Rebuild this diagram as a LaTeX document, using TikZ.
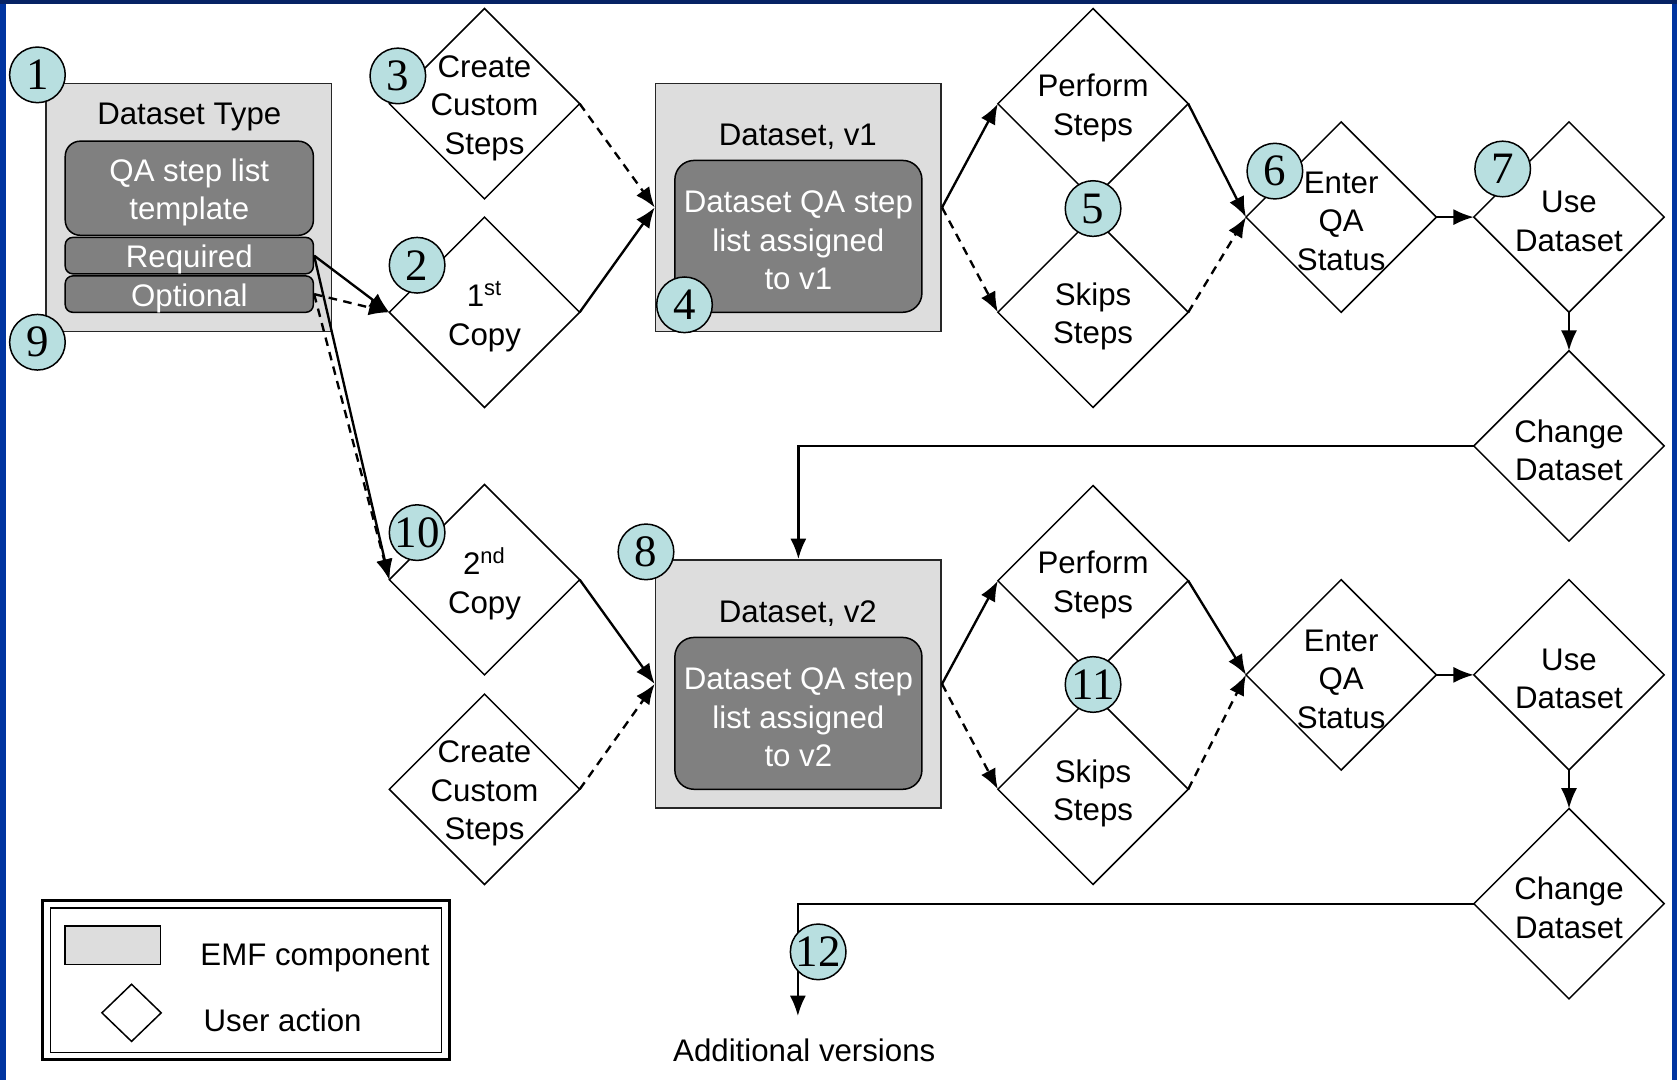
\documentclass[tikz,border=0pt]{standalone}
\usepackage{fontspec}
\setmainfont{Liberation Sans}
\newfontfamily\numfont{Liberation Serif}
\usetikzlibrary{arrows.meta,shapes.geometric}
\definecolor{emfgray}{RGB}{221,221,221}
\definecolor{darkfill}{RGB}{128,128,128}
\definecolor{numcyan}{RGB}{184,223,224}
\definecolor{sideblue}{RGB}{0,52,160}
\definecolor{topblue}{RGB}{6,34,100}
\begin{document}
\begin{tikzpicture}[x=0.5pt,y=-0.5pt,
  every node/.style={font=\fontsize{14.6}{18}\selectfont},
  emf/.style={draw=black!85, fill=emfgray, line width=0.8pt, minimum width=133.5pt, minimum height=116pt, inner sep=0pt},
  darkbox/.style={draw=black, fill=darkfill, line width=0.7pt, rounded corners=#1, inner sep=0pt, minimum width=116pt},
  txt/.style={align=center, inner sep=0pt, yshift=-2pt},
  wtxt/.style={txt, text=white},
  act/.style={draw, shape=diamond, line width=0.7pt, minimum width=89pt, minimum height=89pt, inner sep=0pt, outer sep=0pt},
  num/.style={circle, draw, fill=numcyan, line width=0.7pt, minimum size=26pt, inner sep=0pt, font=\numfont\fontsize{21}{21}\selectfont},
  con/.style={line width=1.1pt, -{Latex[length=9.5pt,width=7.5pt]}},
  dcon/.style={con, dash pattern=on 4pt off 3pt},
]
\useasboundingbox (0,0) rectangle (1568,1010);
% background and frame
\fill[white] (0,0) rectangle (1568,1010);
\fill[sideblue] (0,0) rectangle (6,1010);
\fill[sideblue] (1563,0) rectangle (1568,1010);
\fill[topblue] (0,0) rectangle (1568,4);

% Dataset Type
\node[emf] (dtype) at (176.5,194) {};
\node[txt] (dtypet) at (177,105) {Dataset Type};
\node[darkbox=7pt, minimum height=44pt, label={[wtxt]center:QA step list\\template}] (tmpl) at (177,176) {};
\node[darkbox=3.5pt, minimum height=17pt, label={[wtxt]center:Required}] (req) at (177,239) {};
\node[darkbox=3.5pt, minimum height=17pt, label={[wtxt]center:Optional}] (opt) at (177,275) {};

% Dataset v1
\node[emf] (ds1) at (746.5,194) {};
\node[txt] (ds1t) at (746,124) {Dataset, v1};
\node[darkbox=9pt, minimum height=71pt, minimum width=115.5pt, label={[wtxt]center:Dataset QA step\\list assigned\\to v1}] (ds1i) at (746.5,221) {};

% Dataset v2
\node[emf] (ds2) at (746.5,639.5) {};
\node[txt] (ds2t) at (746,570) {Dataset, v2};
\node[darkbox=9pt, minimum height=71pt, minimum width=115.5pt, label={[wtxt]center:Dataset QA step\\list assigned\\to v2}] (ds2i) at (746.5,667) {};

% user actions, row 1
\node[act, label={[txt]center:Create\\Custom\\Steps}] (cc1) at (453,97) {};
\node[act, label={[txt]center:1\textsuperscript{st}\\Copy}] (copy1) at (453,292) {};
\node[act, label={[txt]center:Perform\\Steps}] (perf1) at (1022,97) {};
\node[act, label={[txt]center:Skips\\Steps}] (skip1) at (1022,292) {};
\node[act, label={[txt]center:Enter\\QA\\Status}] (qa1) at (1254,203) {};
\node[act, label={[txt]center:Use\\Dataset}] (use1) at (1467,203) {};
\node[act, label={[txt]center:Change\\Dataset}] (chg1) at (1467,417) {};

% user actions, row 2
\node[act, label={[txt]center:2\textsuperscript{nd}\\Copy}] (copy2) at (453,542) {};
\node[act, label={[txt]center:Create\\Custom\\Steps}] (cc2) at (453,738) {};
\node[act, label={[txt]center:Perform\\Steps}] (perf2) at (1022,543) {};
\node[act, label={[txt]center:Skips\\Steps}] (skip2) at (1022,738) {};
\node[act, label={[txt]center:Enter\\QA\\Status}] (qa2) at (1254,631) {};
\node[act, label={[txt]center:Use\\Dataset}] (use2) at (1467,631) {};
\node[act, label={[txt]center:Change\\Dataset}] (chg2) at (1467,845) {};

% connectors
\draw[con] (req.east) -- (copy1.west);
\draw[dcon] (opt.east) -- (copy1.west);
\draw[dcon] (opt.east) -- (copy2.west);
\draw[con] (req.east) -- (copy2.west);
\draw[con] (copy1.east) -- (ds1.west);
\draw[dcon] (cc1.east) -- (ds1.west);
\draw[con] (ds1.east) -- (perf1.west);
\draw[dcon] (ds1.east) -- (skip1.west);
\draw[con] (perf1.east) -- (qa1.west);
\draw[dcon] (skip1.east) -- (qa1.west);
\draw[con] (qa1.east) -- (use1.west);
\draw[con] (use1.south) -- (chg1.north);
\draw[con] (chg1.west) -| (ds2.north);
\draw[con] (copy2.east) -- (ds2.west);
\draw[dcon] (cc2.east) -- (ds2.west);
\draw[con] (ds2.east) -- (perf2.west);
\draw[dcon] (ds2.east) -- (skip2.west);
\draw[con] (perf2.east) -- (qa2.west);
\draw[dcon] (skip2.east) -- (qa2.west);
\draw[con] (qa2.east) -- (use2.west);
\draw[con] (use2.south) -- (chg2.north);
\coordinate (addl) at (746,950);
\draw[con] (chg2.west) -| (addl);
\node[txt] (addlt) at (752,978) {Additional versions};

% numbered markers
\node[num] (n1) at (35,70) {1};
\node[num] (n9) at (35,320) {9};
\node[num] (n3) at (372,71) {3};
\node[num] (n2) at (390,248) {2};
\node[num] (n4) at (640,285) {4};
\node[num] (n5) at (1022,195) {5};
\node[num] (n6) at (1192,160) {6};
\node[num] (n7) at (1405,158) {7};
\node[num] (n10) at (390,498) {10};
\node[num] (n8) at (604,516) {8};
\node[num] (n11) at (1022,640) {11};
\node[num] (n12) at (765,890) {12};

% legend
\draw[line width=1.4pt] (40,842) rectangle (420,991);
\draw[line width=0.6pt] (47,849) rectangle (413,984);
\node[draw, fill=emfgray, line width=0.7pt, minimum width=44.5pt, minimum height=18pt, inner sep=0pt] (lgbox) at (105.5,884) {};
\node[txt, anchor=west] (lgboxt) at (187,892) {EMF component};
\node[draw, shape=diamond, line width=0.7pt, minimum width=28pt, minimum height=27pt, inner sep=0pt] (lgdia) at (123,947) {};
\node[txt, anchor=west] (lgdiat) at (190,950) {User action};
\end{tikzpicture}
\end{document}
